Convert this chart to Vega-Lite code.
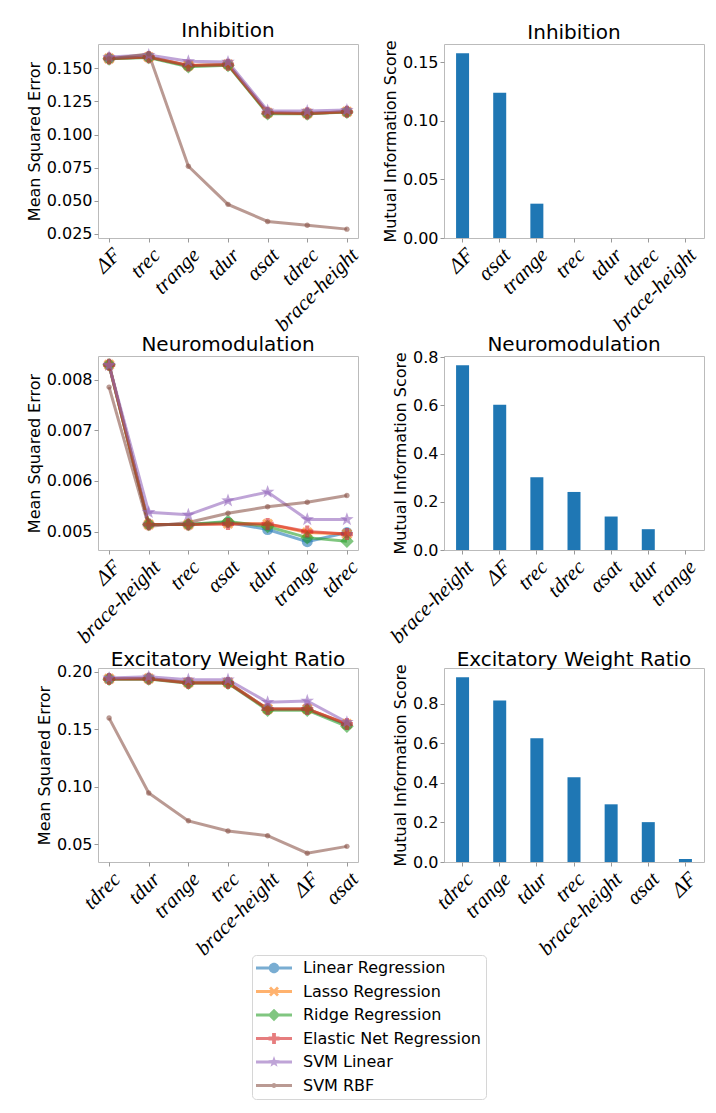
{
  "$schema": "https://vega.github.io/schema/vega-lite/v6.json",
  "background": "white",
  "padding": {"left": 25, "top": 20, "right": 0, "bottom": 0},
  "datasets": {
    "mse": [
      {"panel": "Inhibition", "feature": "ΔF", "model": "Linear Regression", "value": 0.1575},
      {"panel": "Inhibition", "feature": "trec", "model": "Linear Regression", "value": 0.1585},
      {"panel": "Inhibition", "feature": "trange", "model": "Linear Regression", "value": 0.1520},
      {"panel": "Inhibition", "feature": "tdur", "model": "Linear Regression", "value": 0.1530},
      {"panel": "Inhibition", "feature": "αsat", "model": "Linear Regression", "value": 0.1165},
      {"panel": "Inhibition", "feature": "tdrec", "model": "Linear Regression", "value": 0.1160},
      {"panel": "Inhibition", "feature": "brace-height", "model": "Linear Regression", "value": 0.1172},
      {"panel": "Inhibition", "feature": "ΔF", "model": "Lasso Regression", "value": 0.1575},
      {"panel": "Inhibition", "feature": "trec", "model": "Lasso Regression", "value": 0.1585},
      {"panel": "Inhibition", "feature": "trange", "model": "Lasso Regression", "value": 0.1522},
      {"panel": "Inhibition", "feature": "tdur", "model": "Lasso Regression", "value": 0.1530},
      {"panel": "Inhibition", "feature": "αsat", "model": "Lasso Regression", "value": 0.1165},
      {"panel": "Inhibition", "feature": "tdrec", "model": "Lasso Regression", "value": 0.1160},
      {"panel": "Inhibition", "feature": "brace-height", "model": "Lasso Regression", "value": 0.1172},
      {"panel": "Inhibition", "feature": "ΔF", "model": "Ridge Regression", "value": 0.1572},
      {"panel": "Inhibition", "feature": "trec", "model": "Ridge Regression", "value": 0.1582},
      {"panel": "Inhibition", "feature": "trange", "model": "Ridge Regression", "value": 0.1513},
      {"panel": "Inhibition", "feature": "tdur", "model": "Ridge Regression", "value": 0.1523},
      {"panel": "Inhibition", "feature": "αsat", "model": "Ridge Regression", "value": 0.1158},
      {"panel": "Inhibition", "feature": "tdrec", "model": "Ridge Regression", "value": 0.1157},
      {"panel": "Inhibition", "feature": "brace-height", "model": "Ridge Regression", "value": 0.1170},
      {"panel": "Inhibition", "feature": "ΔF", "model": "Elastic Net Regression", "value": 0.1575},
      {"panel": "Inhibition", "feature": "trec", "model": "Elastic Net Regression", "value": 0.1585},
      {"panel": "Inhibition", "feature": "trange", "model": "Elastic Net Regression", "value": 0.1522},
      {"panel": "Inhibition", "feature": "tdur", "model": "Elastic Net Regression", "value": 0.1528},
      {"panel": "Inhibition", "feature": "αsat", "model": "Elastic Net Regression", "value": 0.1165},
      {"panel": "Inhibition", "feature": "tdrec", "model": "Elastic Net Regression", "value": 0.1160},
      {"panel": "Inhibition", "feature": "brace-height", "model": "Elastic Net Regression", "value": 0.1172},
      {"panel": "Inhibition", "feature": "ΔF", "model": "SVM Linear", "value": 0.1585},
      {"panel": "Inhibition", "feature": "trec", "model": "SVM Linear", "value": 0.1600},
      {"panel": "Inhibition", "feature": "trange", "model": "SVM Linear", "value": 0.1553},
      {"panel": "Inhibition", "feature": "tdur", "model": "SVM Linear", "value": 0.1548},
      {"panel": "Inhibition", "feature": "αsat", "model": "SVM Linear", "value": 0.1180},
      {"panel": "Inhibition", "feature": "tdrec", "model": "SVM Linear", "value": 0.1178},
      {"panel": "Inhibition", "feature": "brace-height", "model": "SVM Linear", "value": 0.1185},
      {"panel": "Inhibition", "feature": "ΔF", "model": "SVM RBF", "value": 0.1570},
      {"panel": "Inhibition", "feature": "trec", "model": "SVM RBF", "value": 0.1610},
      {"panel": "Inhibition", "feature": "trange", "model": "SVM RBF", "value": 0.0761},
      {"panel": "Inhibition", "feature": "tdur", "model": "SVM RBF", "value": 0.0473},
      {"panel": "Inhibition", "feature": "αsat", "model": "SVM RBF", "value": 0.0344},
      {"panel": "Inhibition", "feature": "tdrec", "model": "SVM RBF", "value": 0.0316},
      {"panel": "Inhibition", "feature": "brace-height", "model": "SVM RBF", "value": 0.0286},

      {"panel": "Neuromodulation", "feature": "ΔF", "model": "Linear Regression", "value": 0.00829},
      {"panel": "Neuromodulation", "feature": "brace-height", "model": "Linear Regression", "value": 0.00514},
      {"panel": "Neuromodulation", "feature": "trec", "model": "Linear Regression", "value": 0.00514},
      {"panel": "Neuromodulation", "feature": "αsat", "model": "Linear Regression", "value": 0.00518},
      {"panel": "Neuromodulation", "feature": "tdur", "model": "Linear Regression", "value": 0.00504},
      {"panel": "Neuromodulation", "feature": "trange", "model": "Linear Regression", "value": 0.00480},
      {"panel": "Neuromodulation", "feature": "tdrec", "model": "Linear Regression", "value": 0.00498},
      {"panel": "Neuromodulation", "feature": "ΔF", "model": "Lasso Regression", "value": 0.00829},
      {"panel": "Neuromodulation", "feature": "brace-height", "model": "Lasso Regression", "value": 0.00514},
      {"panel": "Neuromodulation", "feature": "trec", "model": "Lasso Regression", "value": 0.00514},
      {"panel": "Neuromodulation", "feature": "αsat", "model": "Lasso Regression", "value": 0.00516},
      {"panel": "Neuromodulation", "feature": "tdur", "model": "Lasso Regression", "value": 0.00515},
      {"panel": "Neuromodulation", "feature": "trange", "model": "Lasso Regression", "value": 0.00498},
      {"panel": "Neuromodulation", "feature": "tdrec", "model": "Lasso Regression", "value": 0.00495},
      {"panel": "Neuromodulation", "feature": "ΔF", "model": "Ridge Regression", "value": 0.00829},
      {"panel": "Neuromodulation", "feature": "brace-height", "model": "Ridge Regression", "value": 0.00514},
      {"panel": "Neuromodulation", "feature": "trec", "model": "Ridge Regression", "value": 0.00514},
      {"panel": "Neuromodulation", "feature": "αsat", "model": "Ridge Regression", "value": 0.00520},
      {"panel": "Neuromodulation", "feature": "tdur", "model": "Ridge Regression", "value": 0.00510},
      {"panel": "Neuromodulation", "feature": "trange", "model": "Ridge Regression", "value": 0.00488},
      {"panel": "Neuromodulation", "feature": "tdrec", "model": "Ridge Regression", "value": 0.00481},
      {"panel": "Neuromodulation", "feature": "ΔF", "model": "Elastic Net Regression", "value": 0.00829},
      {"panel": "Neuromodulation", "feature": "brace-height", "model": "Elastic Net Regression", "value": 0.00514},
      {"panel": "Neuromodulation", "feature": "trec", "model": "Elastic Net Regression", "value": 0.00514},
      {"panel": "Neuromodulation", "feature": "αsat", "model": "Elastic Net Regression", "value": 0.00515},
      {"panel": "Neuromodulation", "feature": "tdur", "model": "Elastic Net Regression", "value": 0.00515},
      {"panel": "Neuromodulation", "feature": "trange", "model": "Elastic Net Regression", "value": 0.00500},
      {"panel": "Neuromodulation", "feature": "tdrec", "model": "Elastic Net Regression", "value": 0.00495},
      {"panel": "Neuromodulation", "feature": "ΔF", "model": "SVM Linear", "value": 0.00828},
      {"panel": "Neuromodulation", "feature": "brace-height", "model": "SVM Linear", "value": 0.00538},
      {"panel": "Neuromodulation", "feature": "trec", "model": "SVM Linear", "value": 0.00533},
      {"panel": "Neuromodulation", "feature": "αsat", "model": "SVM Linear", "value": 0.00561},
      {"panel": "Neuromodulation", "feature": "tdur", "model": "SVM Linear", "value": 0.00578},
      {"panel": "Neuromodulation", "feature": "trange", "model": "SVM Linear", "value": 0.00524},
      {"panel": "Neuromodulation", "feature": "tdrec", "model": "SVM Linear", "value": 0.00524},
      {"panel": "Neuromodulation", "feature": "ΔF", "model": "SVM RBF", "value": 0.00785},
      {"panel": "Neuromodulation", "feature": "brace-height", "model": "SVM RBF", "value": 0.00510},
      {"panel": "Neuromodulation", "feature": "trec", "model": "SVM RBF", "value": 0.00518},
      {"panel": "Neuromodulation", "feature": "αsat", "model": "SVM RBF", "value": 0.00536},
      {"panel": "Neuromodulation", "feature": "tdur", "model": "SVM RBF", "value": 0.00549},
      {"panel": "Neuromodulation", "feature": "trange", "model": "SVM RBF", "value": 0.00558},
      {"panel": "Neuromodulation", "feature": "tdrec", "model": "SVM RBF", "value": 0.00571},

      {"panel": "Excitatory Weight Ratio", "feature": "tdrec", "model": "Linear Regression", "value": 0.1938},
      {"panel": "Excitatory Weight Ratio", "feature": "tdur", "model": "Linear Regression", "value": 0.1940},
      {"panel": "Excitatory Weight Ratio", "feature": "trange", "model": "Linear Regression", "value": 0.1905},
      {"panel": "Excitatory Weight Ratio", "feature": "trec", "model": "Linear Regression", "value": 0.1905},
      {"panel": "Excitatory Weight Ratio", "feature": "brace-height", "model": "Linear Regression", "value": 0.1675},
      {"panel": "Excitatory Weight Ratio", "feature": "ΔF", "model": "Linear Regression", "value": 0.1675},
      {"panel": "Excitatory Weight Ratio", "feature": "αsat", "model": "Linear Regression", "value": 0.1540},
      {"panel": "Excitatory Weight Ratio", "feature": "tdrec", "model": "Lasso Regression", "value": 0.1938},
      {"panel": "Excitatory Weight Ratio", "feature": "tdur", "model": "Lasso Regression", "value": 0.1940},
      {"panel": "Excitatory Weight Ratio", "feature": "trange", "model": "Lasso Regression", "value": 0.1905},
      {"panel": "Excitatory Weight Ratio", "feature": "trec", "model": "Lasso Regression", "value": 0.1905},
      {"panel": "Excitatory Weight Ratio", "feature": "brace-height", "model": "Lasso Regression", "value": 0.1675},
      {"panel": "Excitatory Weight Ratio", "feature": "ΔF", "model": "Lasso Regression", "value": 0.1675},
      {"panel": "Excitatory Weight Ratio", "feature": "αsat", "model": "Lasso Regression", "value": 0.1545},
      {"panel": "Excitatory Weight Ratio", "feature": "tdrec", "model": "Ridge Regression", "value": 0.1935},
      {"panel": "Excitatory Weight Ratio", "feature": "tdur", "model": "Ridge Regression", "value": 0.1937},
      {"panel": "Excitatory Weight Ratio", "feature": "trange", "model": "Ridge Regression", "value": 0.1900},
      {"panel": "Excitatory Weight Ratio", "feature": "trec", "model": "Ridge Regression", "value": 0.1900},
      {"panel": "Excitatory Weight Ratio", "feature": "brace-height", "model": "Ridge Regression", "value": 0.1665},
      {"panel": "Excitatory Weight Ratio", "feature": "ΔF", "model": "Ridge Regression", "value": 0.1665},
      {"panel": "Excitatory Weight Ratio", "feature": "αsat", "model": "Ridge Regression", "value": 0.1525},
      {"panel": "Excitatory Weight Ratio", "feature": "tdrec", "model": "Elastic Net Regression", "value": 0.1936},
      {"panel": "Excitatory Weight Ratio", "feature": "tdur", "model": "Elastic Net Regression", "value": 0.1938},
      {"panel": "Excitatory Weight Ratio", "feature": "trange", "model": "Elastic Net Regression", "value": 0.1902},
      {"panel": "Excitatory Weight Ratio", "feature": "trec", "model": "Elastic Net Regression", "value": 0.1902},
      {"panel": "Excitatory Weight Ratio", "feature": "brace-height", "model": "Elastic Net Regression", "value": 0.1675},
      {"panel": "Excitatory Weight Ratio", "feature": "ΔF", "model": "Elastic Net Regression", "value": 0.1675},
      {"panel": "Excitatory Weight Ratio", "feature": "αsat", "model": "Elastic Net Regression", "value": 0.1545},
      {"panel": "Excitatory Weight Ratio", "feature": "tdrec", "model": "SVM Linear", "value": 0.1945},
      {"panel": "Excitatory Weight Ratio", "feature": "tdur", "model": "SVM Linear", "value": 0.1955},
      {"panel": "Excitatory Weight Ratio", "feature": "trange", "model": "SVM Linear", "value": 0.1930},
      {"panel": "Excitatory Weight Ratio", "feature": "trec", "model": "SVM Linear", "value": 0.1930},
      {"panel": "Excitatory Weight Ratio", "feature": "brace-height", "model": "SVM Linear", "value": 0.1734},
      {"panel": "Excitatory Weight Ratio", "feature": "ΔF", "model": "SVM Linear", "value": 0.1745},
      {"panel": "Excitatory Weight Ratio", "feature": "αsat", "model": "SVM Linear", "value": 0.1560},
      {"panel": "Excitatory Weight Ratio", "feature": "tdrec", "model": "SVM RBF", "value": 0.1596},
      {"panel": "Excitatory Weight Ratio", "feature": "tdur", "model": "SVM RBF", "value": 0.0945},
      {"panel": "Excitatory Weight Ratio", "feature": "trange", "model": "SVM RBF", "value": 0.0702},
      {"panel": "Excitatory Weight Ratio", "feature": "trec", "model": "SVM RBF", "value": 0.0614},
      {"panel": "Excitatory Weight Ratio", "feature": "brace-height", "model": "SVM RBF", "value": 0.0573},
      {"panel": "Excitatory Weight Ratio", "feature": "ΔF", "model": "SVM RBF", "value": 0.0421},
      {"panel": "Excitatory Weight Ratio", "feature": "αsat", "model": "SVM RBF", "value": 0.0480}
    ],
    "mi": [
      {"panel": "Inhibition", "feature": "ΔF", "value": 0.1577},
      {"panel": "Inhibition", "feature": "αsat", "value": 0.1240},
      {"panel": "Inhibition", "feature": "trange", "value": 0.0293},
      {"panel": "Inhibition", "feature": "trec", "value": 0},
      {"panel": "Inhibition", "feature": "tdur", "value": 0},
      {"panel": "Inhibition", "feature": "tdrec", "value": 0},
      {"panel": "Inhibition", "feature": "brace-height", "value": 0},
      {"panel": "Neuromodulation", "feature": "brace-height", "value": 0.767},
      {"panel": "Neuromodulation", "feature": "ΔF", "value": 0.6025},
      {"panel": "Neuromodulation", "feature": "trec", "value": 0.302},
      {"panel": "Neuromodulation", "feature": "tdrec", "value": 0.241},
      {"panel": "Neuromodulation", "feature": "αsat", "value": 0.139},
      {"panel": "Neuromodulation", "feature": "tdur", "value": 0.0864},
      {"panel": "Neuromodulation", "feature": "trange", "value": 0},
      {"panel": "Excitatory Weight Ratio", "feature": "tdrec", "value": 0.934},
      {"panel": "Excitatory Weight Ratio", "feature": "trange", "value": 0.816},
      {"panel": "Excitatory Weight Ratio", "feature": "tdur", "value": 0.626},
      {"panel": "Excitatory Weight Ratio", "feature": "trec", "value": 0.429},
      {"panel": "Excitatory Weight Ratio", "feature": "brace-height", "value": 0.2916},
      {"panel": "Excitatory Weight Ratio", "feature": "αsat", "value": 0.2015},
      {"panel": "Excitatory Weight Ratio", "feature": "ΔF", "value": 0.0153}
    ]
  },
  "columns": 2,
  "bounds": "flush",
  "spacing": {"row": 118, "column": 86},
  "resolve": {"scale": {"x": "independent", "y": "independent"}},
  "concat": [
    {
      "title": {"text": "Inhibition", "dy": 1},
      "width": 260,
      "height": 194,
      "data": {"name": "mse"},
      "transform": [{"filter": "datum.panel === 'Inhibition'"}],
      "encoding": {
        "x": {"field": "feature", "type": "nominal", "sort": ["ΔF", "trec", "trange", "tdur", "αsat", "tdrec", "brace-height"], "scale": {"type": "point", "padding": 0.28}, "axis": {"title": null}},
        "y": {"field": "value", "type": "quantitative", "scale": {"domain": [0.0219, 0.1684], "nice": false, "zero": false}, "axis": {"title": "Mean Squared Error", "values": [0.025, 0.05, 0.075, 0.1, 0.125, 0.15], "format": ".3f"}}
      },
      "layer": [
        {
          "mark": {"type": "line", "strokeWidth": 3, "opacity": 0.6},
          "encoding": {"stroke": {"field": "model", "type": "nominal", "scale": {"domain": ["Linear Regression", "Lasso Regression", "Ridge Regression", "Elastic Net Regression", "SVM Linear", "SVM RBF"], "range": ["#1f77b4", "#ff7f0e", "#2ca02c", "#d62728", "#9467bd", "#8c564b"]}}}
        },
        {
          "mark": {"type": "point", "filled": true, "opacity": 0.6, "size": 120},
          "encoding": {
            "color": {
              "field": "model", "type": "nominal",
              "scale": {"domain": ["Linear Regression", "Lasso Regression", "Ridge Regression", "Elastic Net Regression", "SVM Linear", "SVM RBF"], "range": ["#1f77b4", "#ff7f0e", "#2ca02c", "#d62728", "#9467bd", "#8c564b"]},
              "legend": {
                "orient": "none", "legendX": 154, "legendY": 911, "title": null, "direction": "vertical",
                "strokeColor": "#d6d6d6", "fillColor": "white", "cornerRadius": 4, "padding": 5,
                "labelFont": "DejaVu Sans", "labelFontSize": 16, "labelColor": "black", "labelOffset": 30, "labelLimit": 0,
                "symbolSize": 100, "symbolOpacity": 0.6, "symbolStrokeWidth": 0, "rowPadding": 7.5,
                "encode": {"symbols": {"update": {
                  "shape": {"signal": "datum.value === 'Linear Regression' ? 'M-1.8,-0.3L5.4,-0.3L5.4,0.3L-1.8,0.3ZM2.85,0A1.05,1.05,0,1,1,0.75,0A1.05,1.05,0,1,1,2.85,0Z' : datum.value === 'Lasso Regression' ? 'M-1.8,-0.3L5.4,-0.3L5.4,0.3L-1.8,0.3ZM0.8,-0.6L1.2,-1L1.8,-0.4L2.4,-1L2.8,-0.6L2.2,0L2.8,0.6L2.4,1L1.8,0.4L1.2,1L0.8,0.6L1.4,0Z' : datum.value === 'Ridge Regression' ? 'M-1.8,-0.3L5.4,-0.3L5.4,0.3L-1.8,0.3ZM1.8,-1.25L3.05,0L1.8,1.25L0.55,0Z' : datum.value === 'Elastic Net Regression' ? 'M-1.8,-0.3L5.4,-0.3L5.4,0.3L-1.8,0.3ZM1.42,-1.1L2.18,-1.1L2.18,-0.38L2.9,-0.38L2.9,0.38L2.18,0.38L2.18,1.1L1.42,1.1L1.42,0.38L0.7,0.38L0.7,-0.38L1.42,-0.38Z' : datum.value === 'SVM Linear' ? 'M-1.8,-0.3L5.4,-0.3L5.4,0.3L-1.8,0.3ZM1.8,-1.2L2.082,-0.388L2.941,-0.371L2.257,0.148L2.505,0.971L1.8,0.48L1.095,0.971L1.343,0.148L0.659,-0.371L1.518,-0.388Z' : 'M-1.8,-0.3L5.4,-0.3L5.4,0.3L-1.8,0.3ZM2.3,0A0.5,0.5,0,1,1,1.3,0A0.5,0.5,0,1,1,2.3,0Z'"}
                }}}
              }
            },
            "shape": {"field": "model", "type": "nominal", "legend": null, "scale": {"domain": ["SVM RBF", "SVM Linear", "Elastic Net Regression", "Ridge Regression", "Lasso Regression", "Linear Regression"], "range": ["M0.5,0A0.5,0.5,0,1,1,-0.5,0A0.5,0.5,0,1,1,0.5,0Z", "M0,-1.3L0.306,-0.421L1.236,-0.402L0.495,0.161L0.764,1.052L0,0.52L-0.764,1.052L-0.495,0.161L-1.236,-0.402L-0.306,-0.421Z", "M-0.38,-1.1L0.38,-1.1L0.38,-0.38L1.1,-0.38L1.1,0.38L0.38,0.38L0.38,1.1L-0.38,1.1L-0.38,0.38L-1.1,0.38L-1.1,-0.38L-0.38,-0.38Z", "M0,-1.25L1.25,0L0,1.25L-1.25,0Z", "M-1,-0.6L-0.6,-1L0,-0.4L0.6,-1L1,-0.6L0.4,0L1,0.6L0.6,1L0,0.4L-0.6,1L-1,0.6L-0.4,0Z", "circle"]}}
          }
        }
      ]
    },
    {
      "title": {"text": "Inhibition", "dy": 7},
      "width": 260,
      "height": 194,
      "data": {"name": "mi"},
      "transform": [{"filter": "datum.panel === 'Inhibition'"}],
      "mark": {"type": "bar", "color": "#1f77b4"},
      "encoding": {
        "x": {"field": "feature", "type": "nominal", "sort": ["ΔF", "αsat", "trange", "trec", "tdur", "tdrec", "brace-height"], "scale": {"type": "band", "paddingInner": 0.65, "paddingOuter": 0.325}, "axis": {"title": null}},
        "y": {"field": "value", "type": "quantitative", "scale": {"domain": [0, 0.1656], "nice": false}, "axis": {"title": "Mutual Information Score", "values": [0, 0.05, 0.1, 0.15], "format": ".2f"}}
      }
    },
    {
      "title": {"text": "Neuromodulation", "dy": 3},
      "width": 260,
      "height": 194,
      "data": {"name": "mse"},
      "transform": [{"filter": "datum.panel === 'Neuromodulation'"}],
      "encoding": {
        "x": {"field": "feature", "type": "nominal", "sort": ["ΔF", "brace-height", "trec", "αsat", "tdur", "trange", "tdrec"], "scale": {"type": "point", "padding": 0.28}, "axis": {"title": null}},
        "y": {"field": "value", "type": "quantitative", "scale": {"domain": [0.004636, 0.008464], "nice": false, "zero": false}, "axis": {"title": "Mean Squared Error", "values": [0.005, 0.006, 0.007, 0.008], "format": ".3f"}}
      },
      "layer": [
        {
          "mark": {"type": "line", "strokeWidth": 3, "opacity": 0.6},
          "encoding": {"stroke": {"field": "model", "type": "nominal"}}
        },
        {
          "mark": {"type": "point", "filled": true, "opacity": 0.6, "size": 120},
          "encoding": {
            "color": {"field": "model", "type": "nominal"},
            "shape": {"field": "model", "type": "nominal", "legend": null}
          }
        }
      ]
    },
    {
      "title": {"text": "Neuromodulation", "dy": 10},
      "width": 260,
      "height": 194,
      "data": {"name": "mi"},
      "transform": [{"filter": "datum.panel === 'Neuromodulation'"}],
      "mark": {"type": "bar", "color": "#1f77b4"},
      "encoding": {
        "x": {"field": "feature", "type": "nominal", "sort": ["brace-height", "ΔF", "trec", "tdrec", "αsat", "tdur", "trange"], "scale": {"type": "band", "paddingInner": 0.65, "paddingOuter": 0.325}, "axis": {"title": null}},
        "y": {"field": "value", "type": "quantitative", "scale": {"domain": [0, 0.8054], "nice": false}, "axis": {"title": "Mutual Information Score", "values": [0, 0.2, 0.4, 0.6, 0.8], "format": ".1f"}}
      }
    },
    {
      "title": {"text": "Excitatory Weight Ratio", "dy": 10},
      "width": 260,
      "height": 194,
      "data": {"name": "mse"},
      "transform": [{"filter": "datum.panel === 'Excitatory Weight Ratio'"}],
      "encoding": {
        "x": {"field": "feature", "type": "nominal", "sort": ["tdrec", "tdur", "trange", "trec", "brace-height", "ΔF", "αsat"], "scale": {"type": "point", "padding": 0.28}, "axis": {"title": null}},
        "y": {"field": "value", "type": "quantitative", "scale": {"domain": [0.0344, 0.2032], "nice": false, "zero": false}, "axis": {"title": "Mean Squared Error", "values": [0.05, 0.1, 0.15, 0.2], "format": ".2f"}}
      },
      "layer": [
        {
          "mark": {"type": "line", "strokeWidth": 3, "opacity": 0.6},
          "encoding": {"stroke": {"field": "model", "type": "nominal"}}
        },
        {
          "mark": {"type": "point", "filled": true, "opacity": 0.6, "size": 120},
          "encoding": {
            "color": {"field": "model", "type": "nominal"},
            "shape": {"field": "model", "type": "nominal", "legend": null}
          }
        }
      ]
    },
    {
      "title": {"text": "Excitatory Weight Ratio", "dy": 10},
      "width": 260,
      "height": 194,
      "data": {"name": "mi"},
      "transform": [{"filter": "datum.panel === 'Excitatory Weight Ratio'"}],
      "mark": {"type": "bar", "color": "#1f77b4"},
      "encoding": {
        "x": {"field": "feature", "type": "nominal", "sort": ["tdrec", "trange", "tdur", "trec", "brace-height", "αsat", "ΔF"], "scale": {"type": "band", "paddingInner": 0.65, "paddingOuter": 0.325}, "axis": {"title": null}},
        "y": {"field": "value", "type": "quantitative", "scale": {"domain": [0, 0.9807], "nice": false}, "axis": {"title": "Mutual Information Score", "values": [0, 0.2, 0.4, 0.6, 0.8], "format": ".1f"}}
      }
    }
  ],
  "config": {
    "view": {"stroke": "#bbbbbb", "strokeWidth": 1},
    "font": "DejaVu Sans",
    "title": {"font": "DejaVu Sans", "fontSize": 20, "fontWeight": "normal", "color": "black", "offset": 4, "frame": "group"},
    "axis": {
      "domain": false, "grid": false, "tickColor": "#999999", "tickSize": 4, "labelFlush": false,
      "labelFont": "DejaVu Sans", "labelFontSize": 16, "labelColor": "black", "labelPadding": 2,
      "titleFont": "DejaVu Sans", "titleFontSize": 16, "titleFontWeight": "normal", "titleColor": "black", "titlePadding": 4
    },
    "axisX": {"labelAngle": -45, "labelAlign": "right", "labelBaseline": "top", "labelFont": "Liberation Serif", "labelFontStyle": "italic", "labelFontSize": 21}
  }
}
